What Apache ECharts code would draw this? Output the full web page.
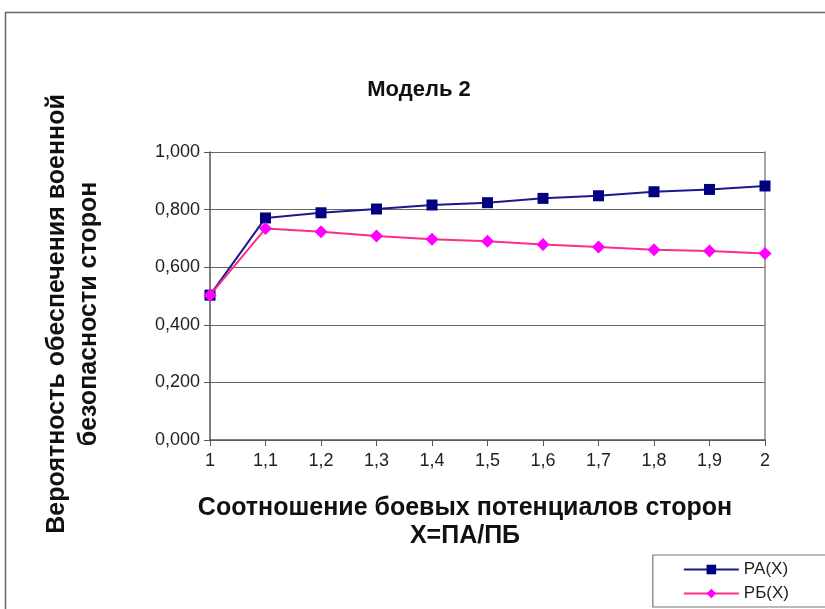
<!DOCTYPE html>
<html>
<head>
<meta charset="utf-8">
<script src="https://cdn.jsdelivr.net/npm/echarts@6/dist/echarts.min.js"></script>
<style>
  html, body { margin: 0; padding: 0; background: #fff; }
  #chart { width: 825px; height: 609px; }
</style>
</head>
<body>
<div id="chart"></div>
<script>
// Ratio of combat potentials X = ПА/ПБ
const categories = ['1', '1,1', '1,2', '1,3', '1,4', '1,5', '1,6', '1,7', '1,8', '1,9', '2'];
// Probability of ensuring military security for side A
const seriesPA = [0.503, 0.771, 0.789, 0.802, 0.816, 0.824, 0.839, 0.848, 0.862, 0.870, 0.882];
// Probability of ensuring military security for side Б
const seriesPB = [0.503, 0.734, 0.723, 0.708, 0.697, 0.690, 0.679, 0.670, 0.661, 0.656, 0.648];
const yTicks = [0, 0.2, 0.4, 0.6, 0.8, 1.0];

const chart = echarts.init(document.getElementById('chart'));
const fontFamily = 'Liberation Sans, Arial, sans-serif';
const nameFont = 'bold 25px Liberation Sans, Arial, sans-serif';

chart.setOption({
  backgroundColor: '#fff',
  animation: false,
  title: {
    text: 'Модель 2',
    left: 414,
    top: 74,
    textAlign: 'center',
    textStyle: { fontFamily, fontSize: 22, fontWeight: 'bold', color: '#111' }
  },
  graphic: [{
    type: 'rect',
    shape: { x: 5.5, y: 12.5, width: 900, height: 700 },
    style: { fill: 'none', stroke: '#666', lineWidth: 1.5 },
    silent: true
  }, {
    // y-axis caption, two rotated lines
    type: 'text',
    x: 57, y: 314, rotation: Math.PI / 2,
    style: {
      text: 'Вероятность обеспечения военной', font: nameFont, fill: '#111',
      align: 'center', verticalAlign: 'middle'
    }
  }, {
    type: 'text',
    x: 89, y: 314, rotation: Math.PI / 2,
    style: {
      text: 'безопасности сторон', font: nameFont, fill: '#111',
      align: 'center', verticalAlign: 'middle'
    }
  }, {
    // x-axis caption
    type: 'text',
    x: 465, y: 508,
    style: {
      text: 'Соотношение боевых потенциалов сторон', font: nameFont, fill: '#111',
      align: 'center', verticalAlign: 'middle'
    }
  }, {
    type: 'text',
    x: 465, y: 536,
    style: {
      text: 'X=ПА/ПБ', font: nameFont, fill: '#111',
      align: 'center', verticalAlign: 'middle'
    }
  }],
  legend: {
    right: -4,
    top: 555,
    orient: 'vertical',
    itemWidth: 55,
    itemHeight: 12,
    itemGap: 7,
    padding: [6, 40, 5, 30],
    borderColor: '#777',
    borderWidth: 1.2,
    backgroundColor: '#fff',
    textStyle: { fontFamily, fontSize: 17, color: '#222' },
    data: ['РА(Х)', 'РБ(Х)']
  },
  grid: { left: 210, right: 60, top: 152, bottom: 169 },
  xAxis: {
    type: 'category',
    data: categories,
    boundaryGap: false,
    axisLine: { lineStyle: { color: '#555', width: 1.5 } },
    axisTick: { show: true, length: 6, alignWithLabel: true, lineStyle: { color: '#555' } },
    axisLabel: { fontFamily, fontSize: 18, color: '#222', margin: 12 },
    splitLine: { show: false }
  },
  yAxis: [{
    type: 'value',
    min: 0,
    max: 1,
    interval: 0.2,
    axisLine: { show: true, lineStyle: { color: '#555', width: 1.5 } },
    axisTick: { show: true, length: 6, lineStyle: { color: '#555' } },
    axisLabel: {
      fontFamily, fontSize: 18, color: '#222', margin: 10,
      formatter: v => yTicks.includes(Math.round(v * 10) / 10) ? v.toFixed(3).replace('.', ',') : ''
    },
    splitLine: { show: true, lineStyle: { color: '#666', width: 1.2 } }
  }, {
    type: 'value',
    min: 0,
    max: 1,
    interval: 0.2,
    position: 'right',
    axisLine: { show: true, lineStyle: { color: '#888', width: 1.5 } },
    axisTick: { show: false },
    axisLabel: { show: false },
    splitLine: { show: false }
  }],
  series: [{
    name: 'РА(Х)',
    type: 'line',
    data: seriesPA,
    symbol: 'rect',
    symbolSize: 11,
    lineStyle: { color: '#1a1a8c', width: 2 },
    itemStyle: { color: '#000080' },
    z: 3
  }, {
    name: 'РБ(Х)',
    type: 'line',
    data: seriesPB,
    symbol: 'diamond',
    symbolSize: 13,
    lineStyle: { color: '#ff2d8a', width: 2 },
    itemStyle: { color: '#ff00ff' },
    z: 4
  }]
});
</script>
</body>
</html>
